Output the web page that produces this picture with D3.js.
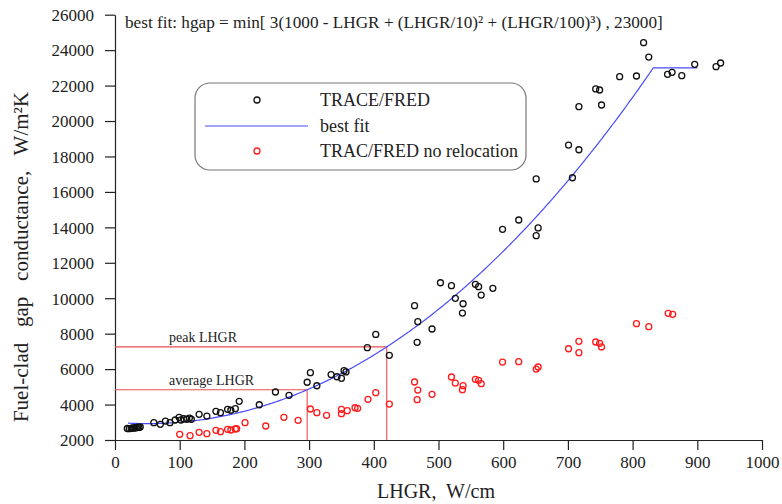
<!DOCTYPE html>
<html>
<head>
<meta charset="utf-8">
<script src="https://cdn.jsdelivr.net/npm/d3@7/dist/d3.min.js"></script>
<style>
  html, body { margin: 0; padding: 0; background: #fff; }
  svg { display: block; }
</style>
</head>
<body>
<svg id="chart" width="782" height="504"></svg>
<script>
// TRACE/FRED gap conductance, with relocation [LHGR W/cm, hgap W/m2K]
const traceLHGR = [19, 22, 25, 27, 29, 31, 33, 35, 37, 39,
  60, 70, 78, 85, 93, 99, 102, 106, 111, 115, 118, 130, 142, 156, 163, 174, 179, 186, 192,
  223, 248, 269, 297, 302, 312, 334, 343, 350, 354, 357, 390, 403, 424,
  463, 468, 467, 490, 503, 520, 526, 538, 537, 557, 562, 566, 584,
  599, 624, 651, 654, 651, 707, 701, 717, 717, 752, 743, 749,
  780, 806, 817, 825, 854, 861, 876, 896, 929, 936];
const traceHgap = [2650, 2640, 2660, 2680, 2670, 2700, 2690, 2720, 2710, 2740,
  2976, 2886, 3070, 2976, 3130, 3280, 3130, 3200, 3170, 3240, 3170, 3450, 3350, 3620, 3540, 3730, 3680, 3770, 4180,
  3990, 4710, 4520, 5260, 5800, 5060, 5690, 5570, 5480, 5910, 5840, 7210, 7960, 6780,
  9580, 8675, 7510, 8265, 10875, 10710, 9995, 9690, 9165, 10785, 10650, 10180, 10560,
  13890, 14415, 13530, 13965, 16730, 16800, 18645, 18380, 20810, 20905, 21810, 21750,
  22500, 22540, 24420, 23610, 22635, 22750, 22560, 23200, 23065, 23275];

// TRAC/FRED gap conductance, no relocation
const noRelocLHGR = [100, 116, 130, 142, 156, 163, 174, 179, 186, 188, 201, 233, 261, 283,
  302, 312, 327, 350, 350, 359, 371, 375, 391, 403, 424,
  463, 468, 467, 490, 520, 526, 538, 537, 557, 562, 566,
  599, 624, 651, 654, 701, 717, 717, 743, 749, 752, 806, 825, 855, 862];
const noRelocHgap = [2320, 2245, 2435, 2355, 2545, 2470, 2605, 2565, 2620, 2640, 2976, 2790, 3280, 3110,
  3750, 3540, 3390, 3730, 3485, 3655, 3820, 3790, 4295, 4670, 4030,
  5273, 4820, 4275, 4580, 5555, 5215, 5065, 4840, 5425, 5365, 5180,
  6400, 6420, 6005, 6120, 7150, 7570, 6930, 7530, 7455, 7250, 8565, 8395, 9150, 9090];

const xTicks = [0, 100, 200, 300, 400, 500, 600, 700, 800, 900, 1000];
const yTicks = [2000, 4000, 6000, 8000, 10000, 12000, 14000, 16000, 18000, 20000, 22000, 24000, 26000];

// best-fit correlation, as given in the header line
const fitRange = [20, 900];
const hgapCap = 23000;
const bestFit = L => Math.min(3 * (1000 - L + Math.pow(L / 10, 2) + Math.pow(L / 100, 3)), hgapCap);

const averageLHGR = 297;
const peakLHGR = 420;

const FONT = "'Liberation Serif', 'Times New Roman', Times, serif";
const INK = "#222";

const svg = d3.select("#chart");
const x = d3.scaleLinear().domain([0, 1000]).range([115, 762]);
const y = d3.scaleLinear().domain([2000, 26000]).range([440, 14.7]);

const label = (sel, size) => sel.style("font-family", FONT).style("font-size", size + "px").style("fill", INK);

// axes
const xAxis = svg.append("g").attr("transform", `translate(0,${y(2000)})`)
  .call(d3.axisBottom(x).tickValues(xTicks).tickFormat(d3.format("d"))
    .tickSize(10).tickPadding(6).tickSizeOuter(0));
const yAxis = svg.append("g").attr("transform", `translate(${x(0)},0)`)
  .call(d3.axisLeft(y).tickValues(yTicks).tickFormat(d3.format("d"))
    .tickSize(10).tickPadding(11).tickSizeOuter(0));
[xAxis, yAxis].forEach(g => {
  g.select(".domain").attr("stroke", INK).attr("stroke-width", 1.2);
  g.selectAll(".tick line").attr("stroke", INK).attr("stroke-width", 1.2);
  label(g.selectAll(".tick text"), 17);
});
yAxis.selectAll(".tick text").attr("dy", "0.34em");

// axis titles
label(svg.append("text").attr("x", 436).attr("y", 498).attr("text-anchor", "middle"), 20)
  .style("white-space", "pre").text("LHGR,  W/cm");
label(svg.append("text").attr("transform", `translate(28,${257}) rotate(-90)`)
  .attr("text-anchor", "middle"), 21)
  .style("white-space", "pre").text("Fuel-clad   gap   conductance,   W/m²K");

// header with the fit expression
label(svg.append("text").attr("x", 125).attr("y", 28), 17.2)
  .text("best fit: hgap = min[ 3(1000 - LHGR + (LHGR/10)² + (LHGR/100)³) , 23000]");

// average and peak LHGR guides
const refColor = "#e85050";
[[averageLHGR, "average LHGR"], [peakLHGR, "peak LHGR"]].forEach(([L, t]) => {
  const h = bestFit(L);
  svg.append("path")
    .attr("d", `M${x(0)},${y(h)}H${x(L)}V${y(2000)}`)
    .attr("fill", "none").attr("stroke", refColor).attr("stroke-width", 1.1);
  label(svg.append("text").attr("x", 169).attr("y", y(h) - 5), 14).text(t);
});

// best fit curve
const fitPts = d3.range(fitRange[0], fitRange[1] + 1, 2).map(L => [L, bestFit(L)]);
svg.append("path").datum(fitPts)
  .attr("d", d3.line().x(d => x(d[0])).y(d => y(d[1])))
  .attr("fill", "none").attr("stroke", "#4a4aff").attr("stroke-width", 1.2);

// data points
const drawPoints = (xs, ys, color) => {
  svg.append("g").selectAll("circle").data(xs.map((v, i) => [v, ys[i]])).join("circle")
    .attr("cx", d => x(d[0])).attr("cy", d => y(d[1])).attr("r", 3)
    .attr("fill", "none").attr("stroke", color).attr("stroke-width", 1.3);
};
drawPoints(noRelocLHGR, noRelocHgap, "#ff1a1a");
drawPoints(traceLHGR, traceHgap, "#111");

// legend
const lg = svg.append("g");
lg.append("rect").attr("x", 195).attr("y", 83).attr("width", 331).attr("height", 87)
  .attr("rx", 15).attr("fill", "#fff").attr("stroke", "#777").attr("stroke-width", 1.2);
lg.append("circle").attr("cx", 257).attr("cy", 100).attr("r", 3)
  .attr("fill", "none").attr("stroke", "#111").attr("stroke-width", 1.3);
lg.append("line").attr("x1", 205).attr("x2", 308).attr("y1", 126).attr("y2", 126)
  .attr("stroke", "#4a4aff").attr("stroke-width", 1.2);
lg.append("circle").attr("cx", 257).attr("cy", 151).attr("r", 3)
  .attr("fill", "none").attr("stroke", "#ff1a1a").attr("stroke-width", 1.3);
[["TRACE/FRED", 106], ["best fit", 132], ["TRAC/FRED no relocation", 157]].forEach(([t, yy]) => {
  label(lg.append("text").attr("x", 320).attr("y", yy), 18).text(t);
});
</script>
</body>
</html>
